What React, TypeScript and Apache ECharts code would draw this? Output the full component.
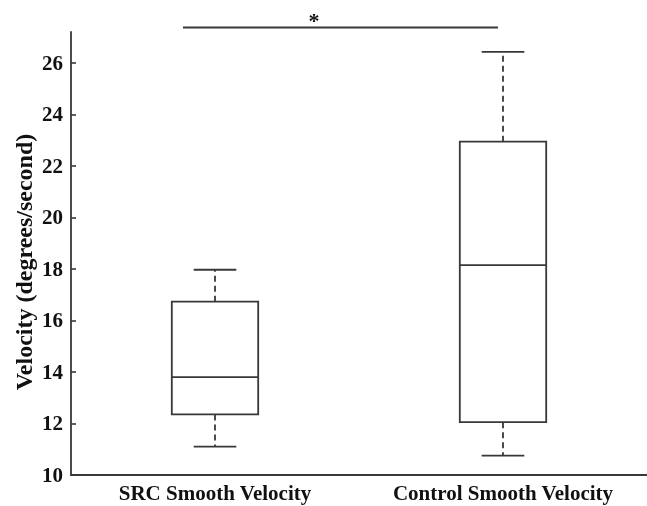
import React, { useEffect, useRef } from "react";
import * as echarts from "echarts";

const categories = ["SRC Smooth Velocity", "Control Smooth Velocity"];
const lowerWhisker = [11.1, 10.75];
const q1 = [12.35, 12.05];
const median = [13.8, 18.15];
const q3 = [16.73, 22.94];
const upperWhisker = [17.97, 26.43];
const yTicks = [10, 12, 14, 16, 18, 20, 22, 24, 26];
const yTitle = "Velocity (degrees/second)";

const LINE = "#383838";
const FONT = "'Liberation Serif', 'Times New Roman', serif";

export default function App() {
  const ref = useRef<HTMLDivElement>(null);
  useEffect(() => {
    if (!ref.current) return;
    const chart = echarts.init(ref.current, null, { renderer: "svg" });
    const data = categories.map((_, i) => [i, lowerWhisker[i], q1[i], median[i], q3[i], upperWhisker[i]]);
    chart.setOption({
      animation: false,
      grid: { left: 71, right: 0, top: 32, bottom: 31 },
      xAxis: {
        type: "category",
        data: categories,
        axisLine: { lineStyle: { color: LINE, width: 1.8 } },
        axisTick: { inside: true, alignWithLabel: true, length: 4, lineStyle: { color: LINE, width: 1.6 } },
        axisLabel: { color: "#111", fontFamily: FONT, fontWeight: "bold", fontSize: 21, margin: 7 },
        splitLine: { show: false },
      },
      yAxis: {
        type: "value",
        min: 10,
        max: 27.2,
        axisLine: { show: true, lineStyle: { color: LINE, width: 1.8 } },
        axisTick: { show: true, inside: true, length: 5, customValues: yTicks, lineStyle: { color: LINE, width: 1.6 } },
        axisLabel: { color: "#111", fontFamily: FONT, fontWeight: "bold", fontSize: 21, margin: 8, customValues: yTicks },
        splitLine: { show: false },
      },
      series: [
        {
          type: "custom",
          data,
          encode: { x: 0, y: [1, 2, 3, 4, 5] },
          renderItem: (params: any, api: any) => {
            const idx = api.value(0);
            const band = api.size([1, 0])[0];
            const boxW = band * 0.3;
            const capW = band * 0.148;
            const lo = api.coord([idx, api.value(1)]);
            const b1 = api.coord([idx, api.value(2)]);
            const md = api.coord([idx, api.value(3)]);
            const b3 = api.coord([idx, api.value(4)]);
            const hi = api.coord([idx, api.value(5)]);
            const cx = lo[0];
            const solid = { stroke: LINE, lineWidth: 1.8, fill: "none" };
            const dashed = { stroke: LINE, lineWidth: 1.8, lineDash: [6, 4] };
            return {
              type: "group",
              children: [
                { type: "rect", shape: { x: cx - boxW / 2, y: b3[1], width: boxW, height: b1[1] - b3[1] }, style: solid },
                { type: "line", shape: { x1: cx - boxW / 2, y1: md[1], x2: cx + boxW / 2, y2: md[1] }, style: solid },
                { type: "line", shape: { x1: cx, y1: b3[1], x2: cx, y2: hi[1] }, style: dashed },
                { type: "line", shape: { x1: cx, y1: b1[1], x2: cx, y2: lo[1] }, style: dashed },
                { type: "line", shape: { x1: cx - capW / 2, y1: hi[1], x2: cx + capW / 2, y2: hi[1] }, style: solid },
                { type: "line", shape: { x1: cx - capW / 2, y1: lo[1], x2: cx + capW / 2, y2: lo[1] }, style: solid },
              ],
            };
          },
        },
      ],
      graphic: [
        { type: "line", shape: { x1: 183, y1: 27.5, x2: 498, y2: 27.5 }, style: { stroke: LINE, lineWidth: 1.8 } },
        {
          type: "text",
          x: 314,
          y: 20,
          style: { text: "*", fill: "#111", font: `bold 22px ${FONT}`, align: "center", verticalAlign: "middle" },
        },
        {
          type: "text",
          x: 24,
          y: 262,
          rotation: Math.PI / 2,
          style: { text: yTitle, fill: "#111", font: `bold 24px ${FONT}`, align: "center", verticalAlign: "middle" },
        },
      ],
    });
    return () => chart.dispose();
  }, []);
  return <div ref={ref} style={{ width: 647, height: 506, position: "fixed", left: 0, top: 0 }} />;
}
